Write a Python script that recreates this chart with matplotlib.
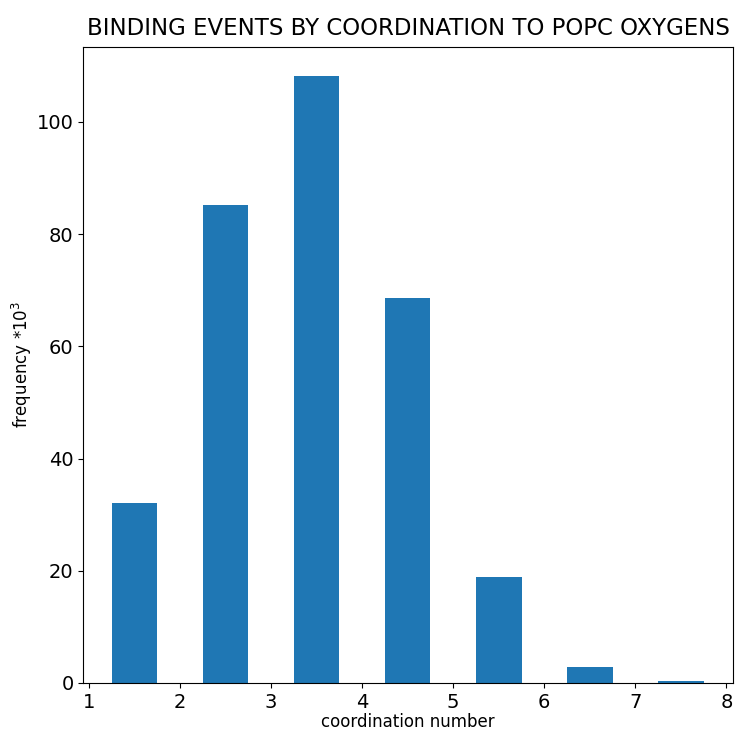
import matplotlib
matplotlib.use("Agg")
import matplotlib.pyplot as plt

# coordination numbers and binding-event counts (x 10^3)
coordination = [1.5, 2.5, 3.5, 4.5, 5.5, 6.5, 7.5]
frequency = [32.1, 85.2, 108.1, 68.6, 18.8, 2.8, 0.3]

fig = plt.figure(figsize=(7.38, 7.34), dpi=100)
ax = fig.add_axes([0.113, 0.0695, 0.88, 0.867])

ax.bar(coordination, frequency, width=0.5, color='#1f77b4')
ax.set_xlim(0.94, 8.07)
ax.set_ylim(0, 113.4)
ax.set_xticks(range(1, 9))
ax.set_yticks([0, 20, 40, 60, 80, 100])
ax.tick_params(labelsize=14)

ax.set_xlabel('coordination number', fontsize=12, labelpad=1)
ax.set_ylabel('frequency *10$^3$', fontsize=12, labelpad=2)
ax.set_title('BINDING EVENTS BY COORDINATION TO POPC OXYGENS', fontsize=16.5, pad=8)

fig.savefig('out.png', dpi=100)
